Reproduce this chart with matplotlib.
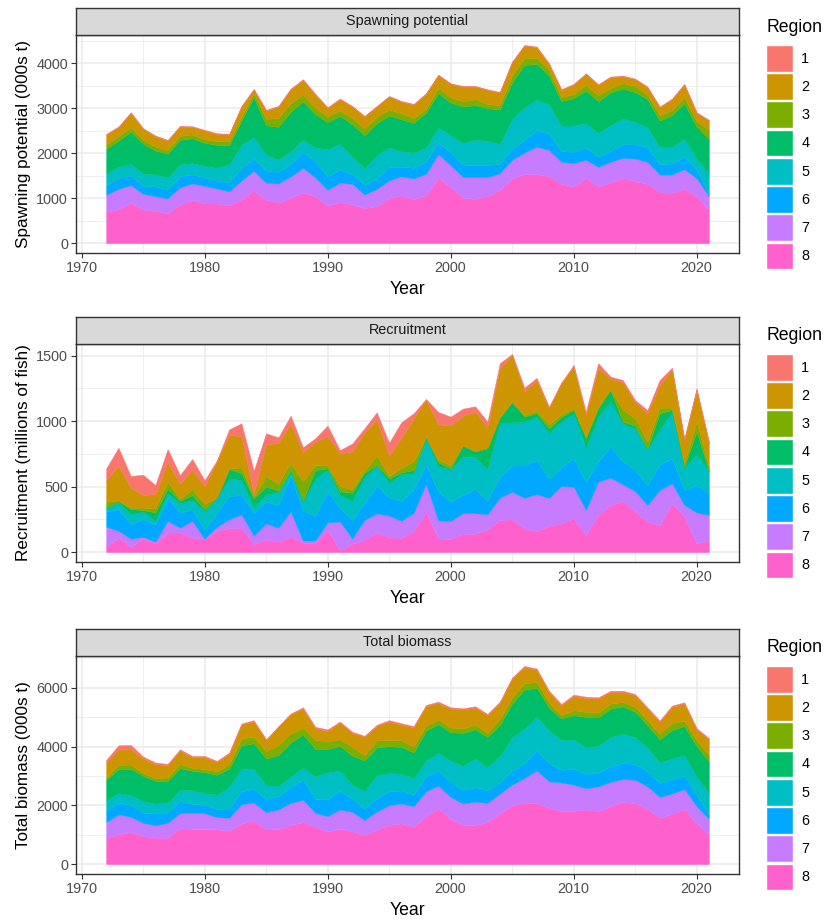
import numpy as np
import matplotlib
matplotlib.use("Agg")
import matplotlib.pyplot as plt
from matplotlib.patches import Patch
from matplotlib.ticker import MultipleLocator

plt.rcParams["font.family"] = ["Liberation Sans", "DejaVu Sans"]

YEARS = np.arange(1972, 2022)
REGIONS = ["1", "2", "3", "4", "5", "6", "7", "8"]
COLORS = ["#F8766D", "#CD9600", "#7CAE00", "#00BE67",
          "#00BFC4", "#00A9FF", "#C77CFF", "#FF61CC"]

# top edge of each stacked band (region 8 at the bottom)
# --- spawning potential (000s t)
sp_top8 = [704, 748, 896, 748, 711, 667, 859, 963, 881, 881, 837, 970, 1163, 963, 904, 1007, 1126, 1044, 837, 911,
           859, 778, 822, 1000, 1063, 978, 1059, 1459, 1244, 1007, 985, 1044, 1185, 1430, 1541, 1533, 1489, 1319, 1259, 1452,
           1252, 1356, 1444, 1378, 1319, 1133, 1119, 1207, 1044, 741]
sp_top7 = [1074, 1207, 1289, 1096, 1044, 993, 1244, 1326, 1274, 1215, 1148, 1393, 1607, 1341, 1326, 1481, 1674, 1459, 1185, 1341,
           1319, 1081, 1207, 1393, 1485, 1437, 1541, 1978, 1733, 1467, 1467, 1467, 1556, 1852, 2015, 2141, 2074, 1807, 1778, 1852,
           1696, 1807, 1896, 1881, 1807, 1526, 1526, 1644, 1444, 1044]
sp_top6 = [1289, 1444, 1504, 1281, 1259, 1200, 1489, 1526, 1459, 1385, 1348, 1667, 1874, 1600, 1585, 1756, 2022, 1815, 1481, 1637,
           1533, 1304, 1444, 1689, 1700, 1674, 1815, 2237, 2007, 1748, 1726, 1733, 1763, 2104, 2296, 2504, 2430, 2044, 2030, 2119,
           1926, 2052, 2200, 2193, 2141, 1756, 1770, 1911, 1630, 1074]
sp_top5 = [1541, 1696, 1763, 1548, 1526, 1459, 1748, 1778, 1719, 1674, 1748, 2185, 2356, 1970, 1859, 2044, 2304, 2126, 2089, 2207,
           1926, 1667, 1956, 2126, 2044, 2015, 2133, 2570, 2400, 2222, 2304, 2267, 2207, 2763, 3022, 3193, 3081, 2615, 2615, 2667,
           2452, 2622, 2770, 2696, 2578, 2133, 2133, 2326, 1889, 1541]
sp_top4 = [2096, 2281, 2474, 2207, 2059, 1985, 2296, 2333, 2230, 2185, 2178, 2726, 3244, 2622, 2585, 2926, 3148, 2867, 2689, 2830,
           2644, 2400, 2667, 2837, 2755, 2674, 2904, 3333, 3126, 3037, 3067, 3000, 2970, 3570, 3963, 3985, 3726, 3156, 3222, 3393,
           3156, 3348, 3437, 3356, 3200, 2726, 2844, 3111, 2593, 2311]
sp_top3 = [2193, 2370, 2578, 2296, 2148, 2074, 2385, 2415, 2311, 2267, 2267, 2815, 3330, 2763, 2785, 3111, 3304, 3007, 2822, 2948,
           2785, 2548, 2807, 2970, 2889, 2785, 2985, 3452, 3244, 3156, 3200, 3096, 3067, 3726, 4119, 4119, 3852, 3244, 3319, 3511,
           3289, 3452, 3556, 3496, 3296, 2844, 2956, 3244, 2711, 2519]
sp_top2 = [2415, 2578, 2896, 2541, 2378, 2281, 2593, 2585, 2504, 2430, 2415, 3037, 3415, 2948, 3037, 3422, 3630, 3304, 3007, 3200,
           3037, 2815, 3037, 3259, 3145, 3081, 3319, 3733, 3541, 3481, 3481, 3407, 3348, 4022, 4393, 4356, 3985, 3407, 3526, 3763,
           3519, 3689, 3711, 3644, 3467, 3022, 3200, 3526, 2896, 2726]
sp_top1 = [2430, 2593, 2911, 2556, 2393, 2296, 2608, 2600, 2519, 2445, 2430, 3052, 3430, 2963, 3052, 3437, 3645, 3319, 3022, 3215,
           3052, 2830, 3052, 3274, 3160, 3096, 3334, 3748, 3556, 3496, 3496, 3422, 3363, 4037, 4408, 4371, 4000, 3422, 3541, 3778,
           3534, 3704, 3726, 3659, 3482, 3037, 3215, 3541, 2911, 2741]

# --- recruitment (millions of fish)
rec_top8 = [41, 110, 41, 104, 66, 150, 150, 112, 102, 163, 183, 181, 62, 96, 79, 117, 71, 71, 168, 15,
            64, 92, 150, 112, 110, 160, 303, 104, 99, 140, 140, 171, 245, 250, 181, 158, 201, 217, 257, 130,
            283, 359, 390, 308, 232, 206, 372, 270, 66, 92]
rec_top7 = [194, 163, 102, 117, 79, 239, 186, 239, 102, 194, 250, 288, 125, 219, 186, 311, 87, 89, 227, 234,
            102, 245, 295, 278, 239, 300, 520, 242, 237, 298, 298, 288, 415, 461, 413, 443, 413, 504, 499, 321,
            537, 568, 517, 466, 359, 474, 525, 359, 303, 283]
rec_top6 = [311, 326, 214, 250, 211, 413, 301, 323, 171, 298, 428, 435, 300, 385, 359, 581, 316, 275, 461, 336,
            245, 374, 507, 418, 390, 481, 665, 461, 385, 436, 481, 392, 576, 660, 662, 703, 558, 647, 716, 537,
            690, 805, 690, 627, 512, 670, 716, 474, 512, 448]
rec_top5 = [336, 382, 288, 308, 239, 451, 374, 397, 313, 410, 563, 550, 340, 440, 458, 614, 385, 558, 629, 435,
            390, 573, 660, 525, 595, 601, 869, 652, 634, 728, 726, 632, 983, 991, 996, 1034, 907, 996, 1060, 792,
            1034, 1149, 983, 945, 784, 932, 1072, 644, 746, 619]
rec_top4 = [341, 387, 329, 321, 303, 484, 392, 435, 326, 415, 634, 601, 410, 500, 470, 627, 395, 627, 639, 464,
            453, 606, 665, 563, 608, 627, 874, 685, 639, 813, 767, 792, 1026, 1144, 1034, 1060, 945, 1032, 1085, 869,
            1098, 1238, 996, 965, 792, 1060, 1085, 652, 920, 609]
rec_top3 = [385, 395, 339, 339, 334, 537, 405, 481, 367, 418, 639, 647, 423, 580, 522, 683, 540, 665, 660, 504,
            479, 621, 736, 581, 640, 695, 879, 703, 665, 818, 772, 800, 1034, 1149, 1047, 1077, 976, 1052, 1098, 881,
            1111, 1238, 1090, 1021, 843, 1103, 1103, 677, 996, 639]
rec_top2 = [548, 660, 492, 435, 443, 688, 522, 629, 504, 693, 894, 886, 448, 823, 833, 978, 762, 841, 886, 754,
            767, 912, 1014, 736, 872, 1021, 1162, 976, 965, 1042, 1072, 958, 1403, 1505, 1230, 1309, 1098, 1289, 1416, 1047,
            1403, 1322, 1296, 1144, 1060, 1276, 1391, 856, 1238, 823]
rec_top1 = [639, 797, 581, 591, 512, 787, 588, 711, 548, 700, 937, 983, 620, 907, 876, 1042, 800, 869, 965, 779,
            828, 945, 1067, 835, 992, 1060, 1169, 1070, 1034, 1095, 1113, 996, 1442, 1513, 1256, 1330, 1110, 1294, 1429, 1072,
            1442, 1340, 1314, 1161, 1085, 1314, 1408, 869, 1251, 835]

# --- total biomass (000s t)
tb_top8 = [890, 1013, 1092, 946, 901, 901, 1216, 1205, 1182, 1182, 1137, 1385, 1486, 1182, 1182, 1329, 1430, 1272, 1103, 1205,
           1115, 1002, 1160, 1340, 1385, 1272, 1633, 1914, 1543, 1329, 1329, 1430, 1723, 2004, 2083, 2072, 1914, 1813, 1813, 1858,
           1802, 1971, 2117, 2072, 1880, 1576, 1712, 1880, 1385, 1013]
tb_top7 = [1430, 1689, 1610, 1407, 1317, 1407, 1734, 1745, 1734, 1599, 1576, 2038, 2094, 1768, 1858, 2083, 2184, 1745, 1633, 1858,
           1779, 1497, 1790, 2004, 2061, 1971, 2477, 2669, 2286, 2061, 2128, 2083, 2398, 2702, 2928, 3187, 2815, 2781, 2702, 2579,
           2646, 2793, 2894, 2871, 2646, 2286, 2398, 2556, 1971, 1543]
tb_top6 = [1835, 2083, 2016, 1745, 1723, 1768, 2139, 2049, 2016, 1880, 1892, 2477, 2556, 2218, 2308, 2624, 2871, 2218, 2218, 2488,
           2229, 1892, 2252, 2477, 2505, 2365, 2984, 3187, 2781, 2533, 2612, 2511, 2781, 3187, 3434, 3862, 3434, 3209, 3232, 3074,
           3119, 3322, 3434, 3412, 3153, 2759, 2894, 3006, 2365, 1689]
tb_top5 = [2162, 2421, 2353, 2139, 2061, 2083, 2533, 2511, 2410, 2365, 2635, 3243, 3243, 2680, 2669, 2973, 3288, 2984, 3119, 3187,
           2702, 2488, 3029, 3097, 3074, 2928, 3524, 3795, 3513, 3344, 3603, 3299, 3682, 4313, 4617, 5011, 4560, 4223, 4245, 3975,
           4031, 4313, 4448, 4313, 3975, 3457, 3603, 3705, 2984, 2421]
tb_top4 = [2871, 3232, 3243, 3006, 2838, 2826, 3265, 3175, 3130, 3040, 3243, 4042, 4110, 3592, 3705, 4132, 4414, 3918, 3918, 4020,
           3693, 3524, 3975, 4009, 3990, 3795, 4538, 4763, 4482, 4470, 4583, 4335, 4729, 5461, 5934, 6002, 5326, 4954, 5067, 5011,
           4988, 5292, 5371, 5180, 4729, 4245, 4560, 4695, 4020, 3491]
tb_top3 = [2953, 3378, 3389, 3097, 2927, 2950, 3412, 3277, 3232, 3153, 3401, 4279, 4335, 3851, 4054, 4448, 4650, 4223, 4178, 4245,
           3997, 3705, 4211, 4223, 4210, 3997, 4718, 4921, 4651, 4617, 4740, 4470, 4954, 5664, 6159, 6193, 5484, 5067, 5236, 5180,
           5168, 5461, 5518, 5349, 4898, 4425, 4808, 4876, 4223, 3716]
tb_top2 = [3457, 3907, 3907, 3603, 3401, 3367, 3862, 3637, 3637, 3479, 3750, 4752, 4853, 4223, 4673, 5101, 5292, 4617, 4527, 4819,
           4459, 4335, 4707, 4842, 4750, 4650, 5371, 5484, 5292, 5258, 5326, 5067, 5484, 6306, 6700, 6610, 5855, 5405, 5720, 5653,
           5630, 5855, 5855, 5743, 5292, 4842, 5349, 5461, 4583, 4245]
tb_top1 = [3547, 4042, 4054, 3660, 3457, 3412, 3907, 3682, 3682, 3513, 3795, 4786, 4898, 4245, 4695, 5123, 5337, 4673, 4583, 4853,
           4504, 4369, 4740, 4898, 4795, 4695, 5416, 5529, 5337, 5303, 5371, 5112, 5529, 6351, 6745, 6655, 5900, 5450, 5765, 5698,
           5675, 5900, 5900, 5788, 5337, 4887, 5394, 5506, 4628, 4290]

PANELS = [
    ("Spawning potential", "Spawning potential (000s t)",
     [sp_top8, sp_top7, sp_top6, sp_top5, sp_top4, sp_top3, sp_top2, sp_top1], 1000),
    ("Recruitment", "Recruitment (millions of fish)",
     [rec_top8, rec_top7, rec_top6, rec_top5, rec_top4, rec_top3, rec_top2, rec_top1], 500),
    ("Total biomass", "Total biomass (000s t)",
     [tb_top8, tb_top7, tb_top6, tb_top5, tb_top4, tb_top3, tb_top2, tb_top1], 2000),
]

W, H = 826, 921
fig = plt.figure(figsize=(W / 100, H / 100), dpi=100)

panel_left, panel_right = 76, 739
strip_tops = [8, 317, 629]
strip_h = 27
panel_h = 218
tick_fs = 10.4

for i, (strip, ylab, tops, step) in enumerate(PANELS):
    top_px = strip_tops[i] + strip_h
    ax = fig.add_axes([panel_left / W, 1 - (top_px + panel_h) / H,
                       (panel_right - panel_left) / W, panel_h / H])
    cum = np.vstack([np.zeros(len(YEARS))] + [np.asarray(t, float) for t in tops])
    vals = np.clip(np.diff(cum, axis=0), 0, None)
    cols = COLORS[::-1]  # bottom layer is region 8
    polys = ax.stackplot(YEARS, vals, colors=cols)
    for p, c in zip(polys, cols):
        p.set_edgecolor(c)
        p.set_linewidth(0.3)

    ymax = cum[-1].max()
    span = YEARS[-1] - YEARS[0]
    ax.set_xlim(YEARS[0] - 0.05 * span, YEARS[-1] + 0.05 * span)
    ax.set_ylim(-0.05 * ymax, 1.05 * ymax)
    ax.xaxis.set_major_locator(MultipleLocator(10))
    ax.xaxis.set_minor_locator(MultipleLocator(5))
    ax.yaxis.set_major_locator(MultipleLocator(step))
    ax.yaxis.set_minor_locator(MultipleLocator(step / 2))
    ax.set_axisbelow(True)
    ax.grid(which="major", color="#EBEBEB", lw=1.1)
    ax.grid(which="minor", color="#EBEBEB", lw=0.55)
    ax.tick_params(which="major", direction="out", length=3.8, width=0.8,
                   color="#333333", labelcolor="#4D4D4D", labelsize=tick_fs, pad=2)
    ax.tick_params(which="minor", length=0)
    for s in ax.spines.values():
        s.set_color("#333333")
        s.set_linewidth(1.0)
    ax.set_xlabel("Year", fontsize=12.7, labelpad=4)
    ax.set_ylabel(ylab, fontsize=12.3, labelpad=4)

    # facet strip
    sax = fig.add_axes([panel_left / W, 1 - top_px / H,
                        (panel_right - panel_left) / W, strip_h / H])
    sax.set_facecolor("#D9D9D9")
    sax.set_xticks([])
    sax.set_yticks([])
    for s in sax.spines.values():
        s.set_color("#333333")
        s.set_linewidth(1.0)
    sax.text(0.5, 0.5, strip, ha="center", va="center", fontsize=tick_fs,
             color="#1A1A1A", transform=sax.transAxes)

    # legend: title drawn as text, keys as a borderless legend
    fig.text(766 / W, 1 - (strip_tops[i] + 19) / H, "Region",
             ha="left", va="center", fontsize=12.7, color="black")
    handles = [Patch(facecolor=c, edgecolor="white", lw=1) for c in COLORS]
    fig.legend(handles, REGIONS, loc="upper left",
               bbox_to_anchor=(766 / W, 1 - (strip_tops[i] + 37) / H),
               frameon=False, fontsize=tick_fs,
               handlelength=1.84, handleheight=2.46, labelspacing=0.11,
               handletextpad=0.6, borderpad=0, borderaxespad=0)

fig.savefig("out.png", dpi=100)
